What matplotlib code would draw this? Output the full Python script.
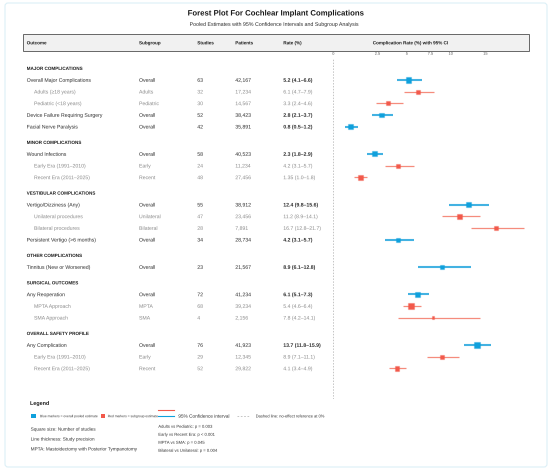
import numpy as np
import matplotlib
matplotlib.use("Agg")
import matplotlib.pyplot as plt
import matplotlib.patheffects as pe
from matplotlib.patches import Rectangle, FancyBboxPatch
from matplotlib.colors import to_rgba

plt.rcParams['font.family'] = ['Liberation Sans', 'DejaVu Sans']
# draw text as outlines so tiny labels keep exact baselines
plt.rcParams['path.effects'] = [pe.Normal()]

# ---- data ----
sections = ["MAJOR COMPLICATIONS", "MINOR COMPLICATIONS", "VESTIBULAR COMPLICATIONS",
            "OTHER COMPLICATIONS", "SURGICAL OUTCOMES", "OVERALL SAFETY PROFILE"]
section_of = [0, 0, 0, 0, 0, 1, 1, 1, 2, 2, 2, 2, 3, 4, 4, 4, 5, 5, 5]
outcomes = ["Overall Major Complications", "Adults (\u226518 years)", "Pediatric (<18 years)",
            "Device Failure Requiring Surgery", "Facial Nerve Paralysis",
            "Wound Infections", "Early Era (1991\u20132010)", "Recent Era (2011\u20132025)",
            "Vertigo/Dizziness (Any)", "Unilateral procedures", "Bilateral procedures",
            "Persistent Vertigo (>6 months)", "Tinnitus (New or Worsened)",
            "Any Reoperation", "MPTA Approach", "SMA Approach",
            "Any Complication", "Early Era (1991\u20132010)", "Recent Era (2011\u20132025)"]
subgroups = ["Overall", "Adults", "Pediatric", "Overall", "Overall",
             "Overall", "Early", "Recent",
             "Overall", "Unilateral", "Bilateral", "Overall", "Overall",
             "Overall", "MPTA", "SMA",
             "Overall", "Early", "Recent"]
is_sub = [False, True, True, False, False, False, True, True, False, True, True,
          False, False, False, True, True, False, True, True]
studies = [63, 32, 30, 52, 42, 58, 24, 48, 55, 47, 28, 34, 23, 72, 68, 4, 76, 29, 52]
patients = [42167, 17234, 14567, 38423, 35891, 40523, 11234, 27456, 38912, 23456, 7891,
            28734, 21567, 41234, 39234, 2156, 41923, 12345, 29822]
rates = [5.2, 6.1, 3.3, 2.8, 0.8, 2.3, 4.2, 1.35, 12.4, 11.2, 16.7, 4.2, 8.9,
         6.1, 5.4, 7.8, 13.7, 8.9, 4.1]
ci_low = [4.1, 4.7, 2.4, 2.1, 0.5, 1.8, 3.1, 1.0, 9.8, 8.9, 12.8, 3.1, 6.1,
          5.1, 4.6, 4.2, 11.8, 7.1, 3.4]
ci_high = [6.6, 7.9, 4.6, 3.7, 1.2, 2.9, 5.7, 1.8, 15.6, 14.1, 21.7, 5.7, 12.8,
           7.3, 6.4, 14.1, 15.9, 11.1, 4.9]
x_ticks = [0, 2.5, 5, 7.5, 10, 15]
p_values = ["Adults vs Pediatric: p = 0.003", "Early vs Recent Era: p < 0.001",
            "MPTA vs SMA: p = 0.045", "Bilateral vs Unilateral: p = 0.004"]
notes = ["Square size: Number of studies", "Line thickness: Study precision",
         "MPTA: Mastoidectomy with Posterior Tympanotomy"]

BLUE = "#0fa0dc"
RED = "#f2594b"
BLUE_LINE = "#2eaadf"
RED_LINE = "#f4806f"
DARK = "#333333"
GREY = "#8a8a8a"

W, H = 550, 471
fig = plt.figure(figsize=(W / 100, H / 100), dpi=100)
fig.patch.set_facecolor("white")

# background axes in pixel units for text and boxes
bg = fig.add_axes([0, 0, 1, 1])
bg.set_xlim(0, W)
bg.set_ylim(H, 0)
bg.axis("off")


def label(x, y, s, size, **kw):
    # place text on its baseline so that the cap height is centred on y
    cap = 0.716 * size * 100 / 72
    return bg.text(x, y + cap / 2, s, va="baseline", fontsize=size, **kw)


bg.add_patch(FancyBboxPatch((5, 3), 542, 464, boxstyle="round,pad=0,rounding_size=3",
                            fc="white", ec="#dcf0f7", lw=0.8))

label(W / 2, 12.7, "Forest Plot For Cochlear Implant Complications", 5.6,
      ha="center", fontweight="bold", color="#1a1a1a")
label(W / 2, 24, "Pooled Estimates with 95% Confidence Intervals and Subgroup Analysis",
      3.8, ha="center", color="#2a2a2a")

# header bar
bg.add_patch(Rectangle((22.7, 34.3), 506, 16.4, fc="#f1f1f1", ec="#666666", lw=0.7))
hdr_y = 42.7
hdr_kw = dict(fontweight="bold", color="#1a1a1a")
label(26.7, hdr_y, "Outcome", 3.3, **hdr_kw)
label(139, hdr_y, "Subgroup", 3.3, **hdr_kw)
label(197.3, hdr_y, "Studies", 3.3, **hdr_kw)
label(235.3, hdr_y, "Patients", 3.3, **hdr_kw)
label(283.3, hdr_y, "Rate (%)", 3.3, **hdr_kw)
label(411, hdr_y, "Complication Rate (%) with 95% CI", 3.3, ha="center", **hdr_kw)

# row layout
step, gap = 11.67, 4.0
row_y, sec_y = [], []
y, prev = 68.3, None
for s in section_of:
    if s != prev:
        if prev is not None:
            y += step + gap
        sec_y.append(y)
        prev = s
    y += step
    row_y.append(y)

for name, sy in zip(sections, sec_y):
    label(26.7, sy, name, 3.3, fontweight="bold", color="#1a1a1a")

fs = 3.7
for i in range(len(outcomes)):
    yy = row_y[i]
    c = GREY if is_sub[i] else "#2a2a2a"
    label(34 if is_sub[i] else 26.7, yy, outcomes[i], fs, color=c)
    label(139, yy, subgroups[i], fs, color=c)
    label(197.3, yy, str(studies[i]), fs, color=c)
    label(235.3, yy, f"{patients[i]:,}", fs, color=c)
    label(283.3, yy, f"{rates[i]:g} ({ci_low[i]:.1f}\u2013{ci_high[i]:.1f})", fs,
          color=c, fontweight="normal" if is_sub[i] else "bold")

# forest axes: compressed (sqrt-like) scale, y in the same pixel units
def fwd(v):
    return np.sqrt(np.clip(v, 0, None) + 1) - 1

def inv(u):
    return (np.clip(u, 0, None) + 1) ** 2 - 1

px_per_unit = 50.7
xmax = 24
top_px, bot_px, left_px = 58, 399, 333.3
ax = fig.add_axes([left_px / W, 1 - bot_px / H,
                   px_per_unit * fwd(xmax) / W, (bot_px - top_px) / H])
ax.set_xscale("function", functions=(fwd, inv))
ax.set_xlim(0, xmax)
ax.set_ylim(bot_px, top_px)
ax.patch.set_alpha(0)
for sp in ax.spines.values():
    sp.set_visible(False)
ax.set_yticks([])
ax.xaxis.tick_top()
ax.set_xticks(x_ticks)
ax.set_xticklabels([f"{t:g}" for t in x_ticks])
ax.tick_params(axis="x", length=0, pad=1.6, labelsize=2.8, labelcolor="#555555")
ax.minorticks_off()
ax.axvline(0, color="#c4c4c4", lw=0.7, ls=(0, (1.5, 1.5)), zorder=1)

for i in range(len(outcomes)):
    col = RED if is_sub[i] else BLUE
    lcol = RED_LINE if is_sub[i] else BLUE_LINE
    ax.plot([ci_low[i], ci_high[i]], [row_y[i], row_y[i]], color=lcol,
            lw=0.9 if is_sub[i] else 1.5, alpha=0.9, solid_capstyle="butt", zorder=2)
    side = 2.8 + 0.038 * studies[i]
    ax.plot(rates[i], row_y[i], marker="s", ms=side * 0.72, color=col,
            mec=to_rgba(col, 0.35), mew=0.9, zorder=3)

# legend
label(30, 403, "Legend", 3.9, fontweight="bold", color="#1a1a1a")
ly = 416
bg.plot(33.3, ly, marker="s", ms=3.4, color=BLUE, mew=0)
label(40, ly, "Blue markers = overall pooled estimate", 2.4, color=DARK)
bg.plot(103, ly, marker="s", ms=3.4, color=RED, mew=0)
label(107.7, ly, "Red markers = subgroup estimate", 2.4, color=DARK)
bg.plot([158.3, 174], [410, 410], color=RED, lw=0.8)
bg.plot([158.3, 174], [ly, ly], color=BLUE, lw=0.8)
label(178.3, ly, "95% Confidence interval", 3.4, color=DARK)
bg.plot([236.7, 249.3], [ly, ly], color="#bbbbbb", lw=0.6, ls=(0, (2, 2)))
label(255.7, ly, "Dashed line: no-effect reference at 0%", 2.9, color=DARK)

for j, t in enumerate(notes):
    label(30.7, 429 + 9.9 * j, t, 3.35, color=DARK)
for j, t in enumerate(p_values):
    label(158.3, 426.3 + 8 * j, t, 3.0, color=DARK)

fig.savefig("out.png", dpi=100, facecolor="white")
